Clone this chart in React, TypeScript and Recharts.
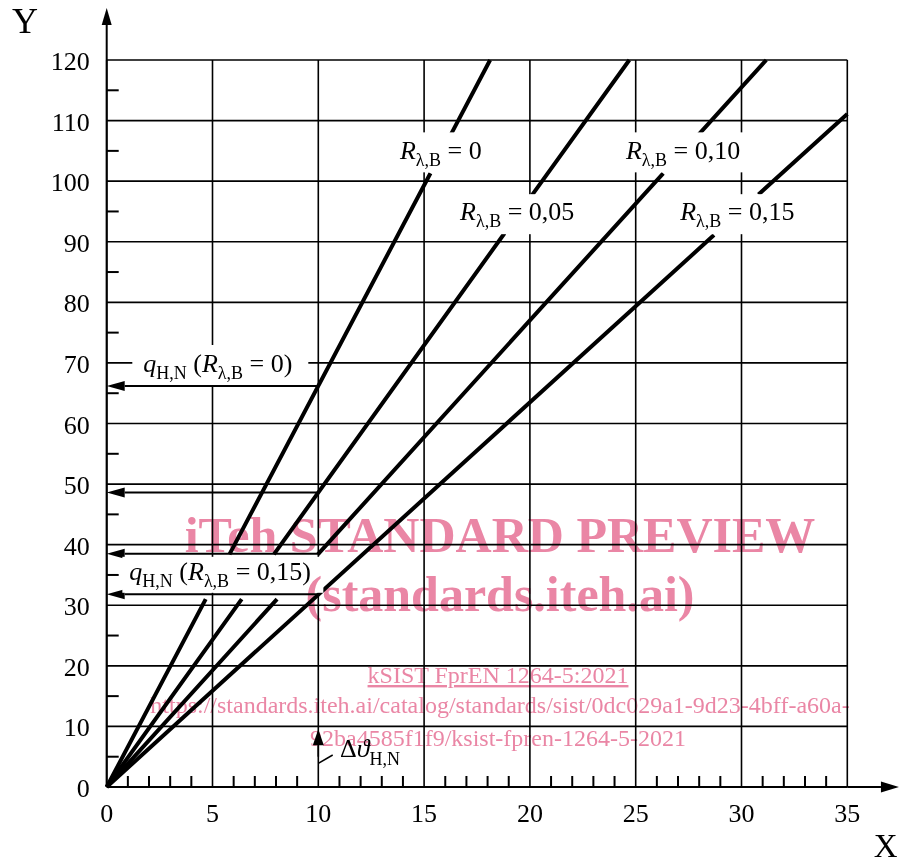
import React from 'react';
import {
  LineChart,
  Line,
  XAxis,
  YAxis,
  CartesianGrid,
  ReferenceLine,
  ReferenceDot,
} from 'recharts';

// axis ticks (minor + major) and grid values
const xTicks = [0, 1, 2, 3, 4, 5, 6, 7, 8, 9, 10, 11, 12, 13, 14, 15, 16, 17, 18, 19, 20, 21, 22, 23, 24, 25, 26, 27, 28, 29, 30, 31, 32, 33, 34, 35];
const yTicks = [0, 5, 10, 15, 20, 25, 30, 35, 40, 45, 50, 55, 60, 65, 70, 75, 80, 85, 90, 95, 100, 105, 110, 115, 120];
const xGrid = [0, 5, 10, 15, 20, 25, 30, 35];
const yGrid = [0, 10, 20, 30, 40, 50, 60, 70, 80, 90, 100, 110, 120];

// the four characteristic lines, broken where the labels sit (y: null = gap)
const lineR000 = [
  { x: 0, y: 0 }, { x: 4.68, y: 31 }, { x: 4.68, y: null },
  { x: 5.8, y: 38.4 }, { x: 15.3, y: 101.3 }, { x: 15.3, y: null },
  { x: 16.25, y: 107.6 }, { x: 18.12, y: 120 },
];
const lineR005 = [
  { x: 0, y: 0 }, { x: 6.38, y: 31 }, { x: 6.38, y: null },
  { x: 7.9, y: 38.4 }, { x: 18.8, y: 91.4 }, { x: 18.8, y: null },
  { x: 20.1, y: 97.7 }, { x: 24.7, y: 120 },
];
const lineR010 = [
  { x: 0, y: 0 }, { x: 8.05, y: 31 }, { x: 8.05, y: null },
  { x: 9.98, y: 38.4 }, { x: 26.3, y: 101.3 }, { x: 26.3, y: null },
  { x: 27.95, y: 107.6 }, { x: 31.17, y: 120 },
];
const lineR015 = [
  { x: 0, y: 0 }, { x: 28.7, y: 91.1 }, { x: 28.7, y: null },
  { x: 30.8, y: 97.8 }, { x: 35, y: 111.1 },
];

// q_H,N read-off arrows at x = 10
const arrowLevels = [66.2, 48.6, 38.5, 31.8];

// label anchors (left edge, baseline) in data units
const rLabels = [
  { x: 13.86, y: 103.6, value: '0' },
  { x: 16.7, y: 93.56, value: '0,05' },
  { x: 24.54, y: 103.6, value: '0,10' },
  { x: 27.1, y: 93.56, value: '0,15' },
];
const qLabels = [
  { x: 1.73, y: 68.5, value: '0' },
  { x: 1.07, y: 34.2, value: '0,15' },
];

// white label boxes, px relative to anchor
const rBoxes = [
  { left: -10, top: -27, w: 103, h: 40 },
  { left: -10, top: -26, w: 140, h: 40 },
  { left: -10, top: -27, w: 139, h: 40 },
  { left: -10, top: -26, w: 138, h: 40 },
];
const qBoxes = [
  { left: -11, top: -27, w: 176, h: 40 },
  { left: -7, top: -23, w: 201, h: 36 },
];

const FONT = '"Liberation Serif", "Times New Roman", serif';
const INK = '#000';
const PINK = '#ea86a5';

type Part = { t: string; it?: boolean; sub?: boolean };

const renderParts = (parts: Part[]) => {
  let down = false;
  return parts.map((p, i) => {
    let dy = 0;
    if (p.sub && !down) { dy = 7; down = true; }
    else if (!p.sub && down) { dy = -7; down = false; }
    return (
      <tspan key={i} dy={dy} fontStyle={p.it ? 'italic' : 'normal'} fontSize={p.sub ? 18 : 26}>
        {p.t}
      </tspan>
    );
  });
};

const Tag = ({ cx, cy, box, parts }: any) => (
  <g>
    <rect x={cx + box.left} y={cy + box.top} width={box.w} height={box.h} fill="#fff" />
    <text x={cx} y={cy} fontFamily={FONT} fontSize={26} fill={INK} style={{ whiteSpace: 'pre' }}>
      {renderParts(parts)}
    </text>
  </g>
);

const Arrow = ({ x1, y1, x2, y2, head = 18, half = 5, sw = 2 }: any) => {
  const dx = x2 - x1;
  const dy = y2 - y1;
  const len = Math.hypot(dx, dy) || 1;
  const ux = dx / len;
  const uy = dy / len;
  const bx = x2 - ux * head;
  const by = y2 - uy * head;
  const px = -uy * half;
  const py = ux * half;
  return (
    <g>
      <line x1={x1} y1={y1} x2={bx} y2={by} stroke={INK} strokeWidth={sw} />
      <polygon points={`${x2},${y2} ${bx + px},${by + py} ${bx - px},${by - py}`} fill={INK} />
    </g>
  );
};

const XTick = (p: any) => {
  const v = p.payload.value;
  if (v % 5 !== 0) {
    return <line x1={p.x} y1={p.y} x2={p.x} y2={p.y - 11} stroke={INK} strokeWidth={2} />;
  }
  return (
    <text x={p.x} y={p.y + 35} textAnchor="middle" fontFamily={FONT} fontSize={26} fill={INK}>
      {v}
    </text>
  );
};

const YTick = (p: any) => {
  const v = p.payload.value;
  if (v % 10 !== 0) {
    return <line x1={p.x} y1={p.y} x2={p.x + 12} y2={p.y} stroke={INK} strokeWidth={2} />;
  }
  return (
    <text x={p.x - 17} y={p.y + 10} textAnchor="end" fontFamily={FONT} fontSize={26} fill={INK}>
      {v}
    </text>
  );
};

const rParts = (v: string): Part[] => [
  { t: 'R', it: true },
  { t: 'λ,B', sub: true },
  { t: ` = ${v}` },
];
const qParts = (v: string): Part[] => [
  { t: 'q', it: true },
  { t: 'H,N', sub: true },
  { t: ' (' },
  { t: 'R', it: true },
  { t: 'λ,B', sub: true },
  { t: ` = ${v})` },
];

const Watermark = () => (
  <svg
    width={901}
    height={867}
    style={{ position: 'absolute', left: 0, top: 0, pointerEvents: 'none', mixBlendMode: 'multiply' }}
  >
    <g fontFamily={FONT} fill={PINK} textAnchor="middle">
      <text x={500} y={552} fontSize={50} fontWeight="bold">iTeh STANDARD PREVIEW</text>
      <text x={500} y={611} fontSize={50} fontWeight="bold">(standards.iteh.ai)</text>
      <text x={498} y={683} fontSize={24} textDecoration="underline">kSIST FprEN 1264-5:2021</text>
      <text x={500} y={713} fontSize={24}>
        https://standards.iteh.ai/catalog/standards/sist/0dc029a1-9d23-4bff-a60a-
      </text>
      <text x={498} y={746} fontSize={24}>92ba4585f1f9/ksist-fpren-1264-5-2021</text>
    </g>
  </svg>
);

const series = [lineR000, lineR005, lineR010, lineR015];

export default function App() {
  return (
    <div style={{ position: 'absolute', left: 0, top: 0, width: 901, height: 867, background: '#fff' }}>
      <LineChart
        width={901}
        height={867}
        margin={{ top: 60, right: 53.7, left: 46.7, bottom: 40 }}
      >
        <CartesianGrid
          stroke={INK}
          strokeWidth={1.6}
          strokeDasharray="0"
          verticalValues={xGrid}
          horizontalValues={yGrid}
        />
        <XAxis
          dataKey="x"
          type="number"
          domain={[0, 35]}
          ticks={xTicks}
          interval={0}
          height={40}
          tickLine={false}
          tickSize={0}
          tickMargin={0}
          axisLine={{ stroke: INK, strokeWidth: 2 }}
          tick={<XTick />}
        />
        <YAxis
          dataKey="y"
          type="number"
          domain={[0, 120]}
          ticks={yTicks}
          interval={0}
          width={60}
          tickLine={false}
          tickSize={0}
          tickMargin={0}
          axisLine={{ stroke: INK, strokeWidth: 2 }}
          tick={<YTick />}
        />

        {rLabels.map((l, i) => (
          <ReferenceDot
            key={`r${i}`}
            x={l.x}
            y={l.y}
            r={1}
            ifOverflow="visible"
            shape={(p: any) => <Tag cx={p.cx} cy={p.cy} box={rBoxes[i]} parts={rParts(l.value)} />}
          />
        ))}
        {qLabels.map((l, i) => (
          <ReferenceDot
            key={`q${i}`}
            x={l.x}
            y={l.y}
            r={1}
            ifOverflow="visible"
            shape={(p: any) => <Tag cx={p.cx} cy={p.cy} box={qBoxes[i]} parts={qParts(l.value)} />}
          />
        ))}

        {series.map((d, i) => (
          <Line
            key={i}
            data={d}
            dataKey="y"
            type="linear"
            stroke={INK}
            strokeWidth={4}
            dot={false}
            activeDot={false}
            isAnimationActive={false}
          />
        ))}

        {arrowLevels.map((v, i) => (
          <ReferenceLine
            key={`a${i}`}
            segment={[{ x: 10, y: v }, { x: 0, y: v }]}
            ifOverflow="visible"
            shape={(p: any) => <Arrow {...p} head={18} half={5} sw={2} />}
          />
        ))}

        {/* Δϑ_H,N marker */}
        <ReferenceLine
          segment={[{ x: 10, y: 5 }, { x: 10, y: 9.52 }]}
          ifOverflow="visible"
          shape={(p: any) => <Arrow {...p} head={16} half={5.5} sw={1.6} />}
        />
        <ReferenceLine
          segment={[{ x: 10, y: 3.9 }, { x: 10.68, y: 5.28 }]}
          stroke={INK}
          strokeWidth={1.5}
          ifOverflow="visible"
        />
        <ReferenceDot
          x={11.03}
          y={4.95}
          r={1}
          ifOverflow="visible"
          shape={(p: any) => (
            <text x={p.cx} y={p.cy} fontFamily={FONT} fontSize={26} fill={INK} style={{ whiteSpace: 'pre' }}>
              <tspan>Δ</tspan>
              <tspan fontStyle="italic">ϑ</tspan>
              <tspan dy={8} fontSize={18}>H,N</tspan>
            </text>
          )}
        />

        {/* axis arrows */}
        <ReferenceLine
          segment={[{ x: 0, y: 120 }, { x: 0, y: 128.6 }]}
          ifOverflow="visible"
          shape={(p: any) => <Arrow {...p} head={17} half={5} sw={2} />}
        />
        <ReferenceLine
          segment={[{ x: 35, y: 0 }, { x: 37.44, y: 0 }]}
          ifOverflow="visible"
          shape={(p: any) => <Arrow {...p} head={18} half={5.5} sw={2} />}
        />

        {/* axis titles */}
        <ReferenceDot
          x={-4.48}
          y={124.4}
          r={1}
          ifOverflow="visible"
          shape={(p: any) => (
            <text x={p.cx} y={p.cy} fontFamily={FONT} fontSize={36} fill={INK}>Y</text>
          )}
        />
        <ReferenceDot
          x={36.25}
          y={-11.6}
          r={1}
          ifOverflow="visible"
          shape={(p: any) => (
            <text x={p.cx} y={p.cy} fontFamily={FONT} fontSize={33} fill={INK}>X</text>
          )}
        />
      </LineChart>
      <Watermark />
    </div>
  );
}
